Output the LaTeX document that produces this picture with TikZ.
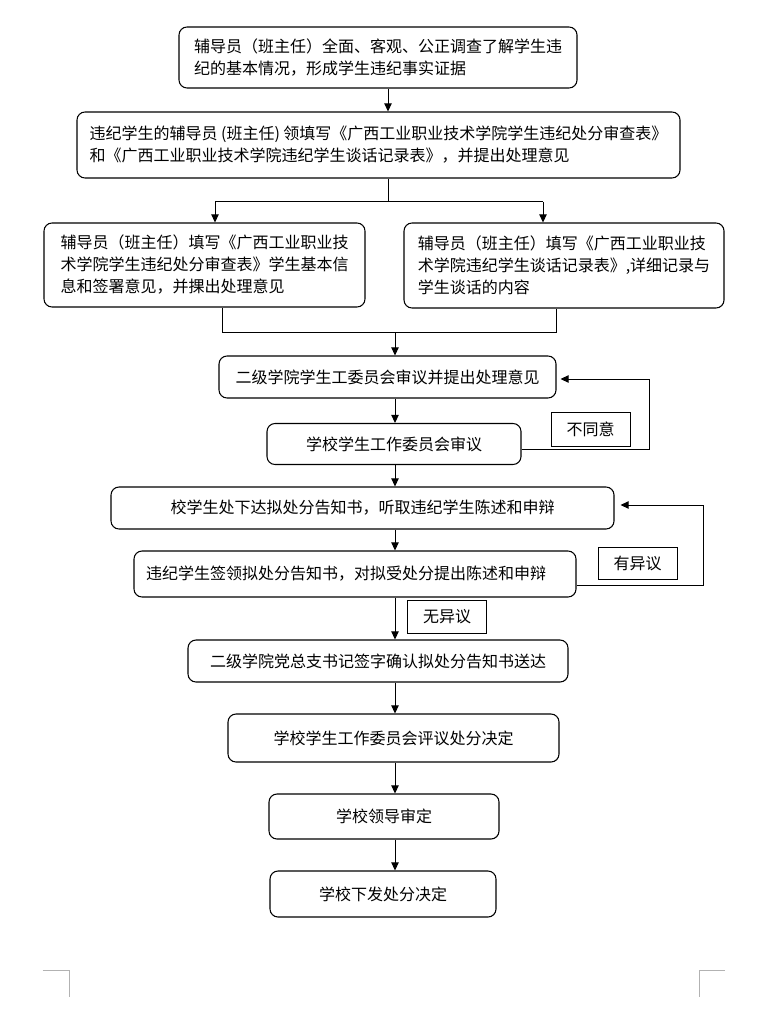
\documentclass[tikz,border=0pt]{standalone}
\usepackage{fontspec}
\setmainfont{Noto Sans CJK SC}
\usetikzlibrary{arrows.meta}

\begin{document}
\begin{tikzpicture}[x=0.75pt,y=-0.75pt,
    box/.style={draw,rounded corners=6pt,line width=0.8pt,align=left,inner sep=0pt,
        font=\fontsize{12pt}{16.5pt}\selectfont},
    tag/.style={draw,line width=0.75pt,inner sep=0pt,minimum width=59.25pt,minimum height=24.75pt,
        font=\fontsize{12pt}{14pt}\selectfont},
    arr/.style={-{Triangle[length=6pt,width=5.5pt]},line width=0.75pt}]
    \useasboundingbox (0,0) rectangle (779,1009);
    \node[box,minimum width=298.5pt,minimum height=45.75pt] (A) at (378,57.5)
        {辅导员（班主任）全面、客观、公正调查了解学生违\\纪的基本情况，形成学生违纪事实证据};
    \node[box,minimum width=452.25pt,minimum height=49.5pt] (B) at (378.5,145)
        {违纪学生的辅导员 (班主任) 领填写《广西工业职业技术学院学生违纪处分审查表》\\和《广西工业职业技术学院违纪学生谈话记录表》，并提出处理意见};
    \node[box,minimum width=240.75pt,minimum height=63pt] (C) at (204.5,265)
        {辅导员（班主任）填写《广西工业职业技\\术学院学生违纪处分审查表》学生基本信\\息和签署意见，并捰出处理意见};
    \node[box,minimum width=240pt,minimum height=63.75pt] (D) at (564,265.5)
        {辅导员（班主任）填写《广西工业职业技\\术学院违纪学生谈话记录表》,详细记录与\\学生谈话的内容};
    \node[box,minimum width=252.75pt,minimum height=31.5pt] (E) at (387.5,377) {二级学院学生工委员会审议并提出处理意见};
    \node[box,minimum width=190.5pt,minimum height=30.75pt] (F) at (394,444) {学校学生工作委员会审议};
    \node[box,minimum width=377.25pt,minimum height=31.5pt] (G) at (362.5,508) {校学生处下达拟处分告知书，听取违纪学生陈述和申辩};
    \node[box,minimum width=331.5pt,minimum height=34.5pt] (H) at (355,574) {违纪学生签领拟处分告知书，对拟受处分提出陈述和申辩\hspace*{13.5pt}};
    \node[box,minimum width=285pt,minimum height=31.5pt] (I) at (378,661) {二级学院党总支书记签字确认拟处分告知书送达};
    \node[box,minimum width=248.25pt,minimum height=36pt] (J) at (393.5,738) {学校学生工作委员会评议处分决定};
    \node[box,minimum width=172.5pt,minimum height=33.75pt] (K) at (384,816.5) {学校领导审定};
    \node[box,minimum width=169.5pt,minimum height=34.5pt] (L) at (383,894) {学校下发处分决定};
    \node[tag,minimum height=25.5pt] (bty) at (590.5,429) {不同意};
    \node[tag,minimum height=24pt] (yyy) at (637.5,563) {有异议};
    \node[tag] (wyy) at (447,616.5) {无异议};
    \coordinate (bx) at (388,0);
    \coordinate (ax) at (395,0);
    \coordinate (spl) at (215,202);
    \coordinate (spr) at (543,202);
    \coordinate (mgl) at (222.5,332);
    \coordinate (mgr) at (556,332);
    \coordinate (fb1) at (649,449);
    \coordinate (fb2) at (703,585);
    \draw[arr] (A.south -| bx) -- (B.north -| bx);
    \draw[line width=0.75pt] (B.south -| bx) -- (spl -| bx);
    \draw[line width=0.75pt] (spl) -- (spr);
    \draw[arr] (spl) -- (spl |- C.north);
    \draw[arr] (spr) -- (spr |- D.north);
    \draw[line width=0.75pt] (mgl |- C.south) -- (mgl) -- (mgr) -- (mgr |- D.south);
    \draw[arr] (mgl -| ax) -- (E.north -| ax);
    \draw[arr] (E.south -| ax) -- (F.north -| ax);
    \draw[arr] (F.south -| ax) -- (G.north -| ax);
    \draw[arr] (G.south -| ax) -- (H.north -| ax);
    \draw[arr] (H.south -| ax) -- (I.north -| ax);
    \draw[arr] (I.south -| ax) -- (J.north -| ax);
    \draw[arr] (J.south -| ax) -- (K.north -| ax);
    \draw[arr] (K.south -| ax) -- (L.north -| ax);
    \draw[arr] (F.east |- fb1) -- (fb1) |- ([xshift=3pt,yshift=-1.5pt]E.east);
    \draw[arr] (H.east |- fb2) -- (fb2) |- ([xshift=4.5pt,yshift=2.25pt]G.east);
    \draw[black!30,line width=0.75pt] (42.5,970) -- (69,970) -- (69,997);
    \draw[black!30,line width=0.75pt] (725,970) -- (699,970) -- (699,997);
\end{tikzpicture}
\end{document}
